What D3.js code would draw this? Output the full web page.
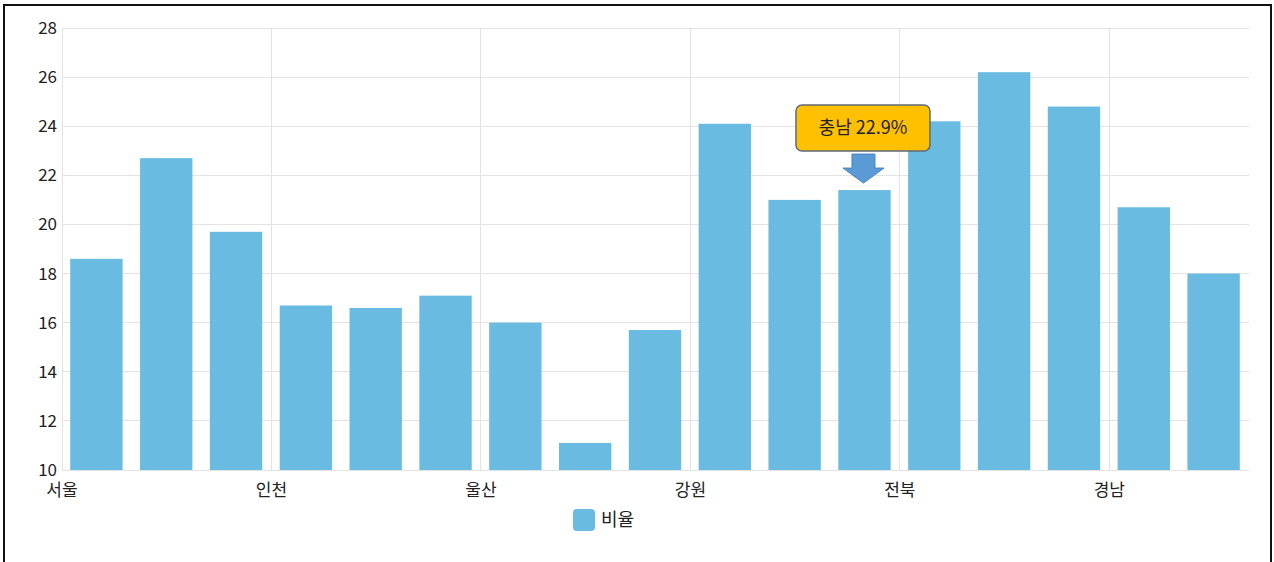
<!DOCTYPE html>
<html><head><meta charset="utf-8">
<script src="https://cdn.jsdelivr.net/npm/d3@7/dist/d3.min.js"></script>
<style>
html,body{margin:0;padding:0;background:#fff;}
svg{display:block;font-family:"Noto Sans CJK KR","Noto Sans",sans-serif;}
</style></head>
<body>
<svg id="c" width="1274" height="562"></svg>
<script>
const categories = ["서울","부산","대구","인천","광주","대전","울산","세종","경기","강원","충북","충남","전북","전남","경북","경남","제주"];
const values = [18.6,22.7,19.7,16.7,16.6,17.1,16.0,11.1,15.7,24.1,21.0,21.4,24.2,26.2,24.8,20.7,18.0];
const yTicks = [10,12,14,16,18,20,22,24,26,28];
const seriesName = "비율";
const callout = {category:"충남", text:"충남 22.9%"};

const svg = d3.select("#c");
const M = {left:62, right:1249, top:28, bottom:470};

// frame
svg.append("path").attr("d","M4,570 V5 H1271 V570").attr("fill","none").attr("stroke","#111").attr("stroke-width",2);

const x = d3.scaleBand().domain(categories).range([M.left,M.right]).paddingInner(0.25).paddingOuter(0.125);
const y = d3.scaleLinear().domain([10,28]).range([M.bottom,M.top]);
const step = x.step();
const slot = c => x(c) - step*x.paddingInner()/2;

// horizontal grid
svg.append("g").selectAll("line").data(yTicks).join("line")
  .attr("x1",M.left).attr("x2",M.right)
  .attr("y1",d=>y(d)).attr("y2",d=>y(d))
  .attr("stroke","#e3e3e3").attr("stroke-width",1).attr("shape-rendering","crispEdges");

// vertical grid at every 3rd category
const labeled = categories.filter((c,i)=>i%3===0);
svg.append("g").selectAll("line").data(labeled).join("line")
  .attr("x1",d=>slot(d)).attr("x2",d=>slot(d))
  .attr("y1",M.top).attr("y2",M.bottom)
  .attr("stroke","#e3e3e3").attr("stroke-width",1).attr("shape-rendering","crispEdges");

// bars
svg.append("g").selectAll("rect").data(categories).join("rect")
  .attr("x",d=>x(d)-0.5).attr("width",x.bandwidth())
  .attr("y",(d,i)=>y(values[i])).attr("height",(d,i)=>y(10)-y(values[i]))
  .attr("fill","#69bbe2");

// y axis labels
svg.append("g").selectAll("text").data(yTicks).join("text")
  .attr("x",57).attr("y",d=>y(d)).attr("dy","0.35em")
  .attr("text-anchor","end").attr("font-size",17).attr("fill","#222")
  .text(d=>d);

// x labels
svg.append("g").selectAll("text").data(labeled).join("text")
  .attr("x",d=>slot(d)).attr("y",M.bottom+20).attr("dy","0.35em")
  .attr("text-anchor","middle").attr("font-size",17).attr("fill","#222")
  .text(d=>d);

// legend
svg.append("rect").attr("x",573).attr("y",509).attr("width",22).attr("height",22).attr("rx",4).attr("fill","#69bbe2");
svg.append("text").attr("x",601).attr("y",520).attr("dy","0.35em").attr("font-size",18).attr("fill","#222").text(seriesName);

// callout
const ci = categories.indexOf(callout.category);
const cx = x(callout.category) + x.bandwidth()/2 - 1.5;
const by = y(values[ci]);
const tip = by - 7;
const g = svg.append("g");
g.append("path")
  .attr("d",`M${cx-11.5},${tip-29} H${cx+11.5} V${tip-15} H${cx+20.5} L${cx},${tip} L${cx-20.5},${tip-15} H${cx-11.5} Z`)
  .attr("fill","#5b9bd5").attr("stroke","#4a84bd").attr("stroke-width",1);
g.append("rect").attr("x",cx-67.5).attr("y",tip-78).attr("width",134).attr("height",46).attr("rx",6)
  .attr("fill","#ffc000").attr("stroke","#5f6b78").attr("stroke-width",1.5);
g.append("text").attr("x",cx-0.5).attr("y",tip-55).attr("dy","0.35em").attr("text-anchor","middle")
  .attr("font-size",18).attr("fill","#222").text(callout.text);
</script>
</body></html>
